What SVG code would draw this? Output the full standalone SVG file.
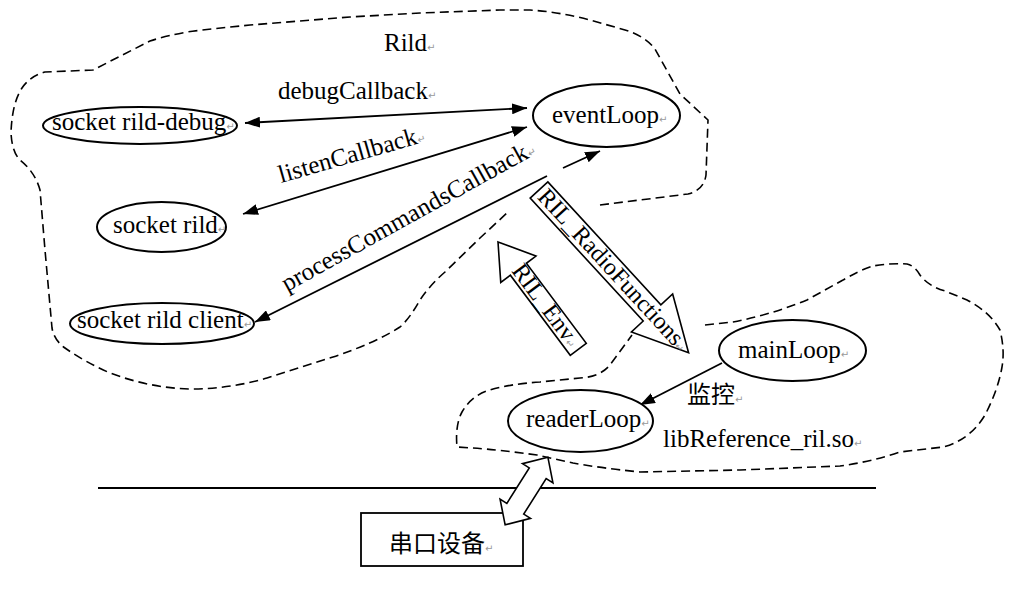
<svg xmlns="http://www.w3.org/2000/svg" width="1015" height="591" viewBox="0 0 1015 591">
<style>
.t{font-family:"Liberation Serif","Times New Roman",serif;font-size:25px;fill:#000}
.c{font-family:"Noto Sans CJK SC","Noto Sans CJK JP",sans-serif;font-size:24px;fill:#000}
.m{font-family:"DejaVu Sans",sans-serif;font-size:10px;fill:#999}
.node{fill:#fff;stroke:#000;stroke-width:2}
.cloud{fill:none;stroke:#000;stroke-width:1.6;stroke-dasharray:9 5}
.ln{fill:none;stroke:#000;stroke-width:1.8}
.blk{fill:#fff;stroke:#000;stroke-width:1.6;stroke-linejoin:miter}
</style>
<defs>
<marker id="ah" viewBox="0 0 15 11" refX="15" refY="5.5" markerWidth="15" markerHeight="11" markerUnits="userSpaceOnUse" orient="auto-start-reverse">
<path d="M0,0 L15,5.5 L0,11 z" fill="#000"/>
</marker>
</defs>
<rect width="1015" height="591" fill="#fff"/>

<g id="rild-cloud">
<path class="cloud" d="M600,205 L688,194 Q704,190 706,175 L708,120 L680,94 L655,49 Q645,36 625,30 L590,20 Q560,12 530,10 L500,10 L420,13 L350,17 L250,25 Q200,30 187,32 Q165,36 150,41 L93,70 L45,72 Q30,76 22,88 Q12,103 11,133 Q12,152 20,160 Q35,172 40,190 L45,250 L52,328 Q54,340 65,348 Q85,362 110,373 Q150,388 190,389 Q230,389 267,378 L333,357 Q375,343 400,327 Q410,318 420,300 Q430,285 445,272 L480,238 L508,212"/>
<text class="t" x="384" y="51">Rild<tspan class="m">↵</tspan></text>
</g>

<g id="lib-cloud">
<path class="cloud" d="M705,325 L733,322 Q770,315 807,300 L843,280 Q860,270 873,266 Q890,263 907,264 Q915,266 920,275 Q928,286 945,291 L967,300 Q990,312 1000,330 Q1005,350 1002,367 Q998,390 985,415 Q970,440 943,447 L900,452 Q870,462 840,466 L740,470 L640,472 Q600,468 573,463 L537,455 Q500,450 473,448 L457,447 Q455,425 462,412 Q472,395 490,390 Q510,384 540,382 L580,378 Q600,377 610,365 L632,335"/>
<text class="t" x="663" y="447">libReference_ril.so<tspan class="m">↵</tspan></text>
</g>

<g id="connectors">
<line class="ln" x1="245" y1="123" x2="527" y2="108" marker-start="url(#ah)" marker-end="url(#ah)"/>
<line class="ln" x1="243" y1="214" x2="527" y2="127" marker-start="url(#ah)" marker-end="url(#ah)"/>
<line class="ln" x1="255" y1="322" x2="547" y2="176" marker-start="url(#ah)"/>
<line class="ln" x1="563" y1="168" x2="600" y2="151" marker-end="url(#ah)"/>
<line class="ln" x1="722" y1="363" x2="640" y2="405" marker-end="url(#ah)"/>
<text class="t" x="278" y="99">debugCallback<tspan class="m">↵</tspan></text>
<text class="t" transform="translate(281,183) rotate(-16)">listenCallback<tspan class="m">↵</tspan></text>
<text class="t" transform="translate(287,292) rotate(-29)">processCommandsCallback<tspan class="m">↵</tspan></text>
<text class="c" x="687" y="403">监控<tspan class="m">↵</tspan></text>
<line class="ln" x1="98" y1="488" x2="876" y2="488"/>
</g>

<g id="ril-radiofunctions" transform="translate(539,190) rotate(47.4)">
<polygon class="blk" points="0,-12 167,-12 167,-28 221,0 167,28 167,12 0,12"/>
<text class="t" style="font-size:24px" x="4" y="7">RIL_RadioFunctions<tspan class="m">↵</tspan></text>
</g>

<g id="ril-env" transform="translate(498,242) rotate(53.2)">
<polygon class="blk" points="0,0 34,-22 34,-10 134,-10 134,10 34,10 34,22"/>
<text class="t" style="font-size:24px" x="31" y="7">RIL_Env<tspan class="m">↵</tspan></text>
</g>

<g id="socket-rild-debug">
<ellipse class="node" cx="140" cy="125.5" rx="97" ry="18.5"/>
<text class="t" x="52" y="130">socket rild-debug<tspan class="m">↵</tspan></text>
</g>

<g id="socket-rild">
<ellipse class="node" cx="161.5" cy="227" rx="64.5" ry="25"/>
<text class="t" x="113" y="233">socket rild<tspan class="m">↵</tspan></text>
</g>

<g id="socket-rild-client">
<ellipse class="node" cx="162" cy="323.5" rx="92" ry="20.5"/>
<text class="t" x="77" y="328">socket rild client<tspan class="m">↵</tspan></text>
</g>

<g id="eventLoop">
<ellipse class="node" cx="606.5" cy="115.5" rx="73.5" ry="31.5"/>
<text class="t" x="552" y="123">eventLoop<tspan class="m">↵</tspan></text>
</g>

<g id="mainLoop">
<ellipse class="node" cx="792.5" cy="350.5" rx="73.5" ry="30.5"/>
<text class="t" x="738" y="358">mainLoop<tspan class="m">↵</tspan></text>
</g>

<g id="readerLoop">
<ellipse class="node" cx="580.5" cy="421" rx="72.5" ry="31"/>
<text class="t" x="526" y="427">readerLoop<tspan class="m">↵</tspan></text>
</g>

<g id="serial-device">
<rect x="361" y="513" width="162" height="53" fill="#fff" stroke="#000" stroke-width="1.8"/>
<text class="c" x="389" y="552">串口设备<tspan class="m">↵</tspan></text>
</g>

<g id="serial-link" transform="translate(526.5,491) rotate(-57.7)">
<polygon class="blk" points="40,0 21,-18 21,-10 -21,-10 -21,-18 -40,0 -21,18 -21,10 21,10 21,18"/>
</g>
</svg>
